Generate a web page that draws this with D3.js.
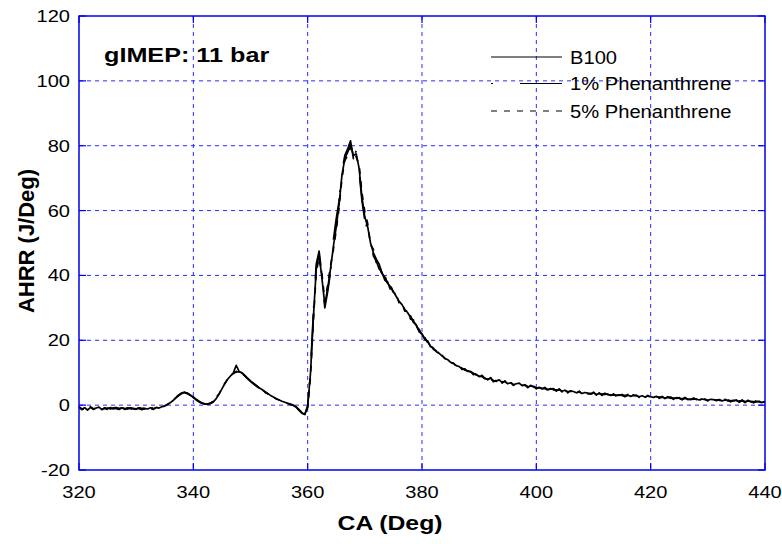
<!DOCTYPE html>
<html lang="en">
<head>
<meta charset="UTF-8">
<title>AHRR vs CA</title>
<script src="https://d3js.org/d3.v7.min.js"></script>
<style>
  body { margin: 0; background: #fff; }
  text { font-family: "Liberation Sans", Arial, sans-serif; fill: #000; }
  .grid line { stroke: #2a2aff; stroke-width: 1; stroke-dasharray: 4,4; }
  .tick-mark { stroke: #0000ee; stroke-width: 1.2; }
  .frame { fill: none; stroke: #0000ee; stroke-width: 1.5; }
  .curve { fill: none; stroke: #000; stroke-width: 1.7; stroke-linejoin: round; }
</style>
</head>
<body>
<div id="chart"></div>
<script>
// crank angle samples: 320 .. 440 deg every 0.5 deg
const caStart = 320, caStep = 0.5;

const b100 = [
  -0.5, -1.2, -0.8, -1.5, -0.7, -1.3, -0.9, -0.6, -1.4, -0.8,
  -1.1, -0.7, -1.2, -0.9, -1.0, -0.8, -1.3, -1.0, -0.9, -1.2,
  -1.1, -0.9, -1.4, -1.0, -1.2, -0.8, -1.1, -0.7, -0.9, -0.5,
  -0.3, 0.2, 0.8, 1.5, 2.3, 3.0, 3.6, 3.9, 3.7, 3.1,
  2.5, 1.8, 1.2, 0.7, 0.4, 0.3, 0.5, 1.0, 2.0, 3.4,
  5.0, 6.6, 8.0, 9.0, 9.8, 10.2, 10.3, 10.0, 9.2, 8.3,
  7.5, 6.8, 6.1, 5.4, 4.8, 4.2, 3.6, 3.0, 2.5, 2.0,
  1.6, 1.2, 0.9, 0.6, 0.3, 0.0, -0.5, -1.4, -2.4, -2.8,
  -0.5, 10.0, 27.0, 42.0, 46.5, 39.0, 31.0, 36.0, 42.0, 49.0,
  55.0, 62.0, 71.0, 76.0, 78.0, 80.5, 77.0, 77.5, 73.0, 64.0,
  58.0, 55.0, 50.0, 47.0, 45.0, 43.5, 40.5, 39.5, 37.5, 36.5,
  35.0, 33.5, 32.0, 31.0, 29.5, 28.5, 27.0, 26.0, 24.5, 23.0,
  21.8, 20.5, 19.5, 18.2, 17.5, 16.5, 16.0, 15.2, 14.5, 14.0,
  13.2, 12.8, 12.2, 11.9, 11.2, 11.0, 10.4, 10.4, 9.6, 9.5,
  8.8, 9.0, 8.2, 8.0, 8.3, 7.4, 7.5, 7.8, 7.0, 7.3,
  6.6, 6.9, 6.3, 6.6, 6.8, 6.0, 6.3, 5.6, 5.9, 5.8,
  5.2, 5.5, 5.0, 5.3, 4.7, 5.1, 4.9, 4.5, 4.8, 4.3,
  4.6, 4.0, 4.4, 4.2, 3.8, 4.1, 3.6, 3.9, 3.7, 3.4,
  3.8, 3.3, 3.6, 3.2, 3.5, 3.4, 3.0, 3.3, 2.9, 3.2,
  3.1, 2.8, 3.1, 2.7, 3.0, 2.9, 2.6, 2.9, 2.5, 2.8,
  2.6, 2.4, 2.7, 2.3, 2.5, 2.2, 2.4, 2.3, 2.0, 2.3,
  2.1, 1.8, 2.2, 1.9, 1.7, 2.0, 1.9, 1.6, 1.9, 1.7,
  1.5, 1.8, 1.7, 1.4, 1.7, 1.3, 1.6, 1.5, 1.2, 1.5,
  1.4, 1.1, 1.4, 1.0, 1.3, 1.2, 0.9, 1.2, 1.0, 0.8,
  1.1
];

const phen1 = [
  -0.8, -1.0, -1.3, -0.9, -1.1, -0.6, -1.2, -1.0, -0.8, -1.3,
  -0.9, -1.2, -0.8, -1.1, -1.3, -0.9, -1.0, -1.2, -0.8, -1.0,
  -1.3, -0.8, -1.0, -1.2, -0.9, -1.0, -0.8, -0.9, -0.7, -0.4,
  -0.1, 0.4, 1.0, 1.7, 2.5, 3.2, 3.8, 4.0, 3.6, 3.0,
  2.3, 1.6, 1.0, 0.6, 0.3, 0.3, 0.6, 1.2, 2.3, 3.7,
  5.3, 6.9, 8.2, 9.2, 10.0, 12.3, 10.4, 9.9, 9.1, 8.1,
  7.3, 6.6, 5.9, 5.3, 4.6, 4.0, 3.5, 2.9, 2.4, 1.9,
  1.5, 1.1, 0.8, 0.5, 0.2, -0.1, -0.7, -1.6, -2.5, -2.9,
  -0.2, 11.0, 28.5, 43.5, 47.5, 40.0, 30.0, 35.0, 41.0, 51.0,
  57.5, 63.0, 72.0, 77.0, 79.0, 81.5, 76.0, 78.5, 72.0, 63.0,
  57.0, 54.0, 51.0, 46.0, 44.5, 42.0, 41.0, 38.5, 38.0, 35.5,
  35.5, 33.0, 32.5, 30.5, 30.0, 28.0, 27.5, 25.5, 24.8, 22.6,
  22.0, 20.2, 19.8, 18.0, 17.7, 16.3, 16.2, 15.0, 14.7, 13.8,
  13.4, 12.6, 12.4, 11.7, 11.4, 10.8, 10.6, 10.2, 9.8, 9.3,
  9.0, 8.8, 8.4, 7.8, 8.5, 7.2, 7.7, 7.6, 7.2, 7.1,
  6.8, 6.7, 6.5, 6.4, 7.0, 5.8, 6.5, 5.4, 6.1, 5.6,
  5.4, 5.3, 5.2, 5.1, 4.9, 4.9, 5.1, 4.3, 5.0, 4.1,
  4.8, 3.8, 4.6, 4.0, 4.0, 3.9, 3.8, 3.7, 3.9, 3.2,
  4.0, 3.1, 3.8, 3.0, 3.7, 3.2, 3.2, 3.1, 3.1, 3.0,
  3.3, 2.6, 3.3, 2.5, 3.2, 2.7, 2.8, 2.7, 2.7, 2.6,
  2.8, 2.2, 2.9, 2.1, 2.7, 2.0, 2.6, 2.1, 2.2, 2.1,
  2.3, 1.6, 2.4, 1.7, 1.9, 1.8, 2.1, 1.4, 2.1, 1.5,
  1.7, 1.6, 1.9, 1.2, 1.9, 1.1, 1.8, 1.3, 1.4, 1.3,
  1.6, 0.9, 1.6, 0.8, 1.5, 1.0, 1.1, 1.0, 1.2, 0.6,
  1.3
];

const phen5 = [
  -0.6, -1.4, -1.0, -1.2, -0.5, -1.1, -1.0, -0.8, -1.2, -1.0,
  -1.3, -0.8, -1.0, -0.7, -1.2, -1.0, -1.1, -0.8, -1.1, -1.4,
  -0.9, -1.1, -1.2, -0.8, -1.0, -1.0, -1.3, -0.8, -0.7, -0.6,
  -0.2, 0.3, 0.9, 1.6, 2.4, 3.1, 3.7, 3.8, 3.5, 3.0,
  2.4, 1.7, 1.1, 0.6, 0.4, 0.4, 0.6, 1.1, 2.1, 3.5,
  5.1, 6.7, 8.1, 9.1, 9.9, 10.4, 10.2, 9.8, 9.0, 8.2,
  7.4, 6.7, 6.0, 5.3, 4.7, 4.1, 3.5, 3.0, 2.4, 2.0,
  1.6, 1.2, 0.8, 0.5, 0.2, 0.0, -0.6, -1.5, -2.3, -2.6,
  -0.8, 9.0, 26.0, 41.0, 45.5, 40.5, 32.0, 37.0, 43.0, 48.0,
  54.0, 61.0, 70.0, 75.5, 77.0, 79.5, 78.0, 76.5, 74.0, 65.5,
  59.5, 56.0, 49.5, 48.0, 44.0, 44.0, 40.0, 40.0, 37.0, 37.0,
  34.5, 34.0, 31.5, 31.3, 29.0, 29.0, 26.5, 26.3, 24.2, 23.4,
  21.5, 20.8, 19.2, 18.5, 17.2, 16.8, 15.7, 15.4, 14.3, 14.2,
  13.0, 13.0, 12.0, 12.1, 11.0, 11.2, 10.2, 10.6, 9.4, 9.7,
  8.6, 9.2, 8.0, 8.2, 8.1, 7.6, 7.3, 8.0, 6.8, 7.5,
  6.4, 7.1, 6.1, 6.8, 6.6, 6.2, 6.1, 5.8, 5.7, 6.0,
  5.0, 5.7, 4.8, 5.5, 4.5, 5.3, 4.7, 4.7, 4.6, 4.5,
  4.4, 4.2, 4.2, 4.4, 3.6, 4.3, 3.4, 4.1, 3.5, 3.6,
  3.6, 3.5, 3.4, 3.4, 3.3, 3.6, 2.8, 3.5, 2.7, 3.4,
  2.9, 3.0, 2.9, 2.9, 2.8, 3.1, 2.4, 3.1, 2.3, 3.0,
  2.4, 2.6, 2.5, 2.5, 2.3, 2.4, 2.2, 2.5, 1.8, 2.5,
  1.9, 2.0, 2.0, 2.1, 1.5, 2.2, 1.7, 1.8, 1.7, 1.9,
  1.3, 2.0, 1.5, 1.6, 1.5, 1.5, 1.4, 1.7, 1.0, 1.7,
  1.2, 1.3, 1.2, 1.2, 1.1, 1.4, 0.7, 1.4, 0.8, 1.0,
  0.9
];

const seriesNames = ["B100", "1% Phenanthrene", "5% Phenanthrene"];
const xTicks = [320, 340, 360, 380, 400, 420, 440];
const yTicks = [-20, 0, 20, 40, 60, 80, 100, 120];

const margin = { top: 16, right: 17, bottom: 74, left: 79 };
const width = 782 - margin.left - margin.right;
const height = 544 - margin.top - margin.bottom;

const svgRoot = d3.select("#chart")
    .append("svg")
    .attr("width", 782)
    .attr("height", 544);

const svg = svgRoot.append("g")
    .attr("transform", `translate(${margin.left},${margin.top})`);

const x = d3.scaleLinear().domain([320, 440]).range([0, width]);
const y = d3.scaleLinear().domain([-20, 120]).range([height, 0]);

// text in the source picture is stretched sideways, so scale it in x
function label(sel, px, py, str, size, sx, anchor, weight) {
    return sel.append("text")
        .attr("transform", `translate(${px},${py}) scale(${sx},1)`)
        .attr("text-anchor", anchor)
        .style("font-size", size + "px")
        .style("font-weight", weight || "normal")
        .text(str);
}

// grid
const grid = svg.append("g").attr("class", "grid");
grid.selectAll(".h")
    .data(yTicks.slice(1, -1))
    .enter().append("line")
    .attr("x1", 0).attr("x2", width)
    .attr("y1", d => y(d)).attr("y2", d => y(d));
grid.selectAll(".v")
    .data(xTicks.slice(1, -1))
    .enter().append("line")
    .attr("y1", 0).attr("y2", height)
    .attr("x1", d => x(d)).attr("x2", d => x(d));

// inward ticks on all four sides
const tk = 7;
const ticks = svg.append("g");
yTicks.forEach(v => {
    ticks.append("line").attr("class", "tick-mark")
        .attr("x1", 0).attr("x2", tk).attr("y1", y(v)).attr("y2", y(v));
    ticks.append("line").attr("class", "tick-mark")
        .attr("x1", width - tk).attr("x2", width).attr("y1", y(v)).attr("y2", y(v));
});
xTicks.forEach(v => {
    ticks.append("line").attr("class", "tick-mark")
        .attr("x1", x(v)).attr("x2", x(v)).attr("y1", height).attr("y2", height - tk);
    ticks.append("line").attr("class", "tick-mark")
        .attr("x1", x(v)).attr("x2", x(v)).attr("y1", 0).attr("y2", tk);
});

// curves
const line = d3.line()
    .x((d, i) => x(caStart + i * caStep))
    .y(d => y(d));

const styles = [
    { data: b100, dash: null },
    { data: phen1, dash: "2,27,42,6" },
    { data: phen5, dash: "6,7" }
];

[styles[2], styles[1], styles[0]].forEach(s => {
    svg.append("path")
        .datum(s.data)
        .attr("class", "curve")
        .attr("stroke-dasharray", s.dash)
        .attr("d", line);
});

// frame
svg.append("rect")
    .attr("class", "frame")
    .attr("x", 0).attr("y", 0)
    .attr("width", width).attr("height", height);

// tick labels
yTicks.forEach(v => label(svgRoot, margin.left - 9, margin.top + y(v) + 6, v, 17, 1.18, "end"));
xTicks.forEach(v => label(svgRoot, margin.left + x(v), 498, v, 17, 1.18, "middle"));

// axis titles
label(svgRoot, 390, 530, "CA (Deg)", 21, 1.18, "middle", "bold");
svgRoot.append("text")
    .attr("transform", "translate(34,241) rotate(-90)")
    .attr("text-anchor", "middle")
    .style("font-size", "22px")
    .style("font-weight", "bold")
    .text("AHRR (J/Deg)");

// annotation
label(svgRoot, 104, 62, "gIMEP: 11 bar", 21, 1.2, "start", "bold");

// legend
const legendRows = [57, 83.5, 111];
seriesNames.forEach((name, i) => {
    svgRoot.append("line")
        .attr("x1", 491).attr("x2", 562)
        .attr("y1", legendRows[i]).attr("y2", legendRows[i])
        .attr("stroke", "#000")
        .attr("stroke-width", 1.2)
        .attr("stroke-dasharray", styles[i].dash);
    label(svgRoot, 570, legendRows[i] + 6.5, name, 18.5, 1.09, "start");
});
</script>
</body>
</html>
